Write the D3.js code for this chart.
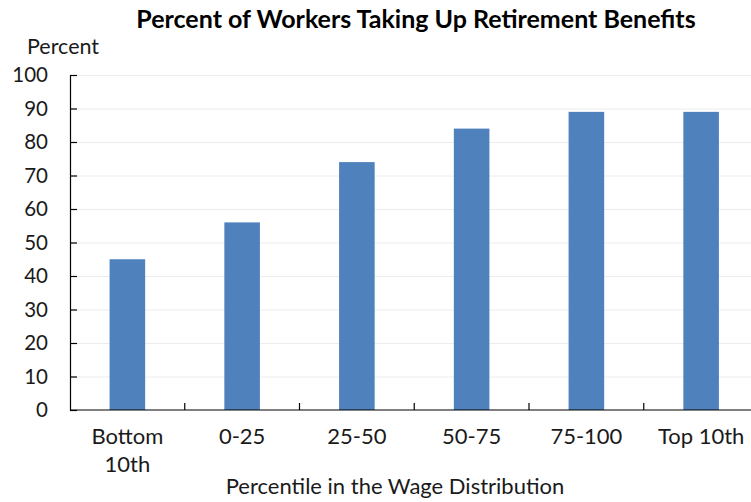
<!DOCTYPE html>
<html><head><meta charset="utf-8">
<script src="https://cdn.jsdelivr.net/npm/d3@7"></script>
<style>body{margin:0;background:#fff}svg{display:block}text{font-family:Lato,"Open Sans",sans-serif}</style>
</head><body><svg id="c" width="751" height="502"></svg>
<script>
const categories = ["Bottom\n10th", "0-25", "25-50", "50-75", "75-100", "Top 10th"];
const values = [45, 56, 74, 84, 89, 89];
const yTicks = [0, 10, 20, 30, 40, 50, 60, 70, 80, 90, 100];
const title = "Percent of Workers Taking Up Retirement Benefits";
const yLabel = "Percent";
const xLabel = "Percentile in the Wage Distribution";

const svg = d3.select("#c");
const W = 751;
const x0 = 70, x1 = 758.5, yTop = 75, yBot = 410;
const x = d3.scaleBand().domain(categories).range([x0, x1]).paddingInner(0.69).paddingOuter(0.345);
const y = d3.scaleLinear().domain([0, 100]).range([yBot, yTop]);

// gridlines
svg.append("g").selectAll("line").data(yTicks.filter(d => d > 0)).join("line")
  .attr("x1", x0).attr("x2", W).attr("y1", d => y(d) + 0.5).attr("y2", d => y(d) + 0.5)
  .attr("stroke", "#ececec").attr("stroke-width", 1);

// bars
svg.append("g").selectAll("rect").data(values).join("rect")
  .attr("x", (d, i) => x(categories[i])).attr("width", x.bandwidth())
  .attr("y", d => y(d)).attr("height", d => y(0) - y(d))
  .attr("fill", "#4f81bd");

// y axis
const ya = svg.append("g").attr("transform", `translate(${x0},0)`)
  .call(d3.axisLeft(y).tickValues(yTicks).tickSize(-7).tickSizeOuter(0).tickPadding(22));
ya.select(".domain").attr("stroke", "#000").attr("stroke-width", 1.2);
ya.selectAll(".tick line").attr("stroke", "#000").attr("stroke-width", 1.2);
ya.selectAll(".tick text").attr("font-size", 20.5).attr("fill", "#1a1a1a").attr("font-family", "Lato,sans-serif");

// x axis line
svg.append("line").attr("x1", x0).attr("x2", W).attr("y1", yBot).attr("y2", yBot)
  .attr("stroke", "#000").attr("stroke-width", 1.2);
// x ticks between bands
const step = x.step();
svg.append("g").selectAll("line").data(categories.slice(1)).join("line")
  .attr("x1", d => x(d) - step * 0.345).attr("x2", d => x(d) - step * 0.345)
  .attr("y1", yBot).attr("y2", yBot - 7).attr("stroke", "#000").attr("stroke-width", 1.2);

// category labels
const cl = svg.append("g").selectAll("text").data(categories).join("text")
  .attr("x", d => x(d) + x.bandwidth() / 2).attr("y", 444)
  .attr("text-anchor", "middle").attr("font-size", 22).attr("fill", "#1a1a1a");
cl.each(function(d) {
  const t = d3.select(this);
  d.split("\n").forEach((s, i) => t.append("tspan").attr("x", x(d) + x.bandwidth() / 2).attr("dy", i ? 28 : 0).text(s));
});

// titles
svg.append("text").attr("x", 416).attr("y", 28).attr("text-anchor", "middle")
  .attr("font-size", 25).attr("font-weight", "bold").attr("fill", "#000").text(title);
svg.append("text").attr("x", 27).attr("y", 54).attr("font-size", 21.5).attr("fill", "#1a1a1a").text(yLabel);
svg.append("text").attr("x", 395).attr("y", 494).attr("text-anchor", "middle")
  .attr("font-size", 22).attr("fill", "#1a1a1a").text(xLabel);
</script></body></html>
